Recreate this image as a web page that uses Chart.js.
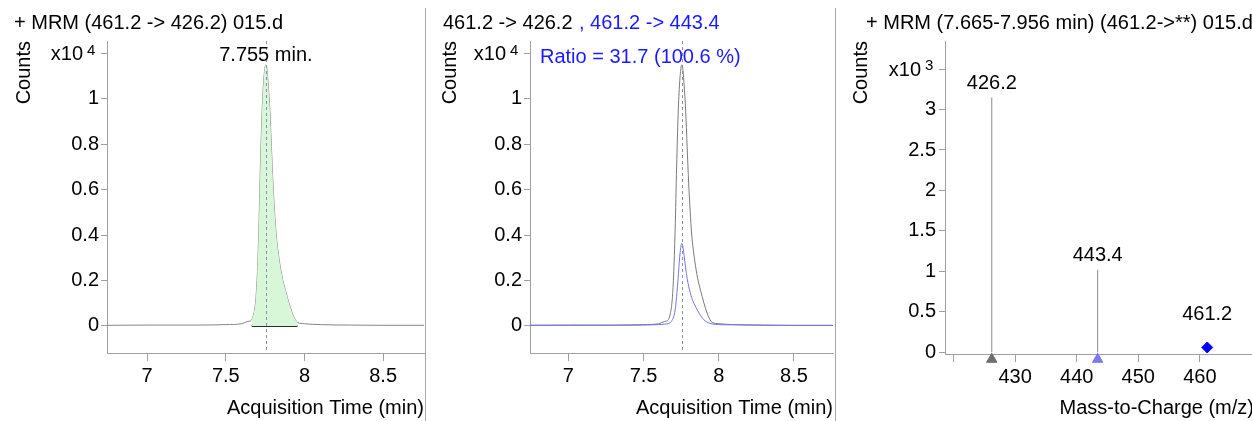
<!DOCTYPE html>
<html>
<head>
<meta charset="utf-8">
<script src="https://cdn.jsdelivr.net/npm/chart.js@4.4.1/dist/chart.umd.min.js"></script>
<style>
  html, body { margin: 0; padding: 0; background: #fff; overflow: hidden; }
  body { width: 1252px; height: 421px; position: relative; }
  canvas { position: absolute; top: 0; }
  .sep { position: absolute; top: 8px; width: 1px; height: 413px; background: #a8a8a8; }
</style>
</head>
<body>
<canvas id="quantChart" width="425" height="421" style="left:0"></canvas>
<div class="sep" style="left:425px"></div>
<canvas id="qualChart" width="410" height="421" style="left:426px"></canvas>
<div class="sep" style="left:835px"></div>
<canvas id="specChart" width="425" height="421" style="left:836px"></canvas>
<script>
// data block
const rtTimes = [6.74, 7.0, 7.3, 7.5, 7.6, 7.64, 7.655, 7.665, 7.68, 7.69, 7.70, 7.71, 7.72, 7.73, 7.74, 7.75,
    7.755, 7.76, 7.77, 7.78, 7.79, 7.80, 7.81, 7.82, 7.84, 7.86, 7.88, 7.90, 7.92, 7.94, 7.956, 8.0, 8.1, 8.3, 8.5, 8.76];
// 461.2 -> 426.2 (x10^4 counts)
const quantCounts = [0.003, 0.004, 0.004, 0.006, 0.010, 0.020, 0.022, 0.028, 0.060, 0.110, 0.220, 0.420, 0.700, 0.930, 1.070, 1.140,
    1.150, 1.140, 1.060, 0.950, 0.790, 0.630, 0.505, 0.405, 0.290, 0.210, 0.155, 0.105, 0.062, 0.030, 0.016, 0.010, 0.006, 0.004, 0.003, 0.003];
// 461.2 -> 443.4 (x10^4 counts)
const qualCounts = [0.003, 0.003, 0.003, 0.004, 0.006, 0.008, 0.009, 0.011, 0.016, 0.025, 0.040, 0.070, 0.130, 0.210, 0.300, 0.355,
    0.364, 0.355, 0.310, 0.255, 0.210, 0.175, 0.148, 0.125, 0.093, 0.068, 0.045, 0.028, 0.018, 0.012, 0.009, 0.006, 0.005, 0.003, 0.002, 0.002];
const retentionTime = 7.755;
const integration = [7.665, 7.956];

// spectrum (x10^3 counts)
const ionMz = [426.2, 443.4, 461.2];
const ionCounts = [3.15, 1.02, 0.06];
const ionKind = ['product', 'product', 'precursor'];

const timeTicks = [7, 7.5, 8, 8.5];
const mzTicks = [420, 430, 440, 450, 460];

// style block
const AXIS = '#a0a0a0';
const FONT = "'Liberation Sans', Arial, sans-serif";
Chart.defaults.font.family = FONT;
Chart.defaults.font.size = 20;
Chart.defaults.color = '#000';

function text(ctx, str, x, y, color, size, align) {
    ctx.font = (size || 20) + 'px ' + FONT;
    ctx.fillStyle = color || '#000';
    ctx.textAlign = align || 'left';
    ctx.textBaseline = 'middle';
    ctx.fillText(str, x, y);
}

function exponent(ctx, chart, power, y) {
    const left = chart.chartArea.left;
    text(ctx, 'x10', left - 24, y + 1, '#000', 20, 'right');
    text(ctx, power, left - 20, y - 3, '#000', 15, 'left');
}

function rtLine(chart) {
    const ctx = chart.ctx;
    const x = chart.scales.x.getPixelForValue(retentionTime);
    ctx.save();
    ctx.strokeStyle = '#8c8cb8';
    ctx.lineWidth = 1;
    ctx.setLineDash([3, 3]);
    ctx.beginPath();
    ctx.moveTo(Math.round(x) + 0.5, chart.chartArea.top);
    ctx.lineTo(Math.round(x) + 0.5, chart.chartArea.bottom);
    ctx.stroke();
    ctx.restore();
}

function chromOptions(leftWidth, padRight) {
    return {
        responsive: false,
        animation: false,
        layout: { padding: { top: 41, right: padRight, bottom: 0, left: 0 } },
        plugins: { legend: { display: false }, tooltip: { enabled: false } },
        scales: {
            x: {
                type: 'linear', min: 6.745, max: 8.76,
                afterFit: s => { s.height = 68; },
                afterBuildTicks: s => { s.ticks = timeTicks.map(v => ({ value: v })); },
                border: { display: true, color: AXIS },
                grid: { display: true, drawOnChartArea: false, tickLength: 8, color: AXIS },
                ticks: { autoSkip: false, maxRotation: 0, padding: 3, callback: v => String(v) },
                title: { display: true, text: 'Acquisition Time (min)', align: 'end', padding: { top: 0, bottom: 1 } }
            },
            y: {
                min: -0.119, max: 1.255,
                afterFit: s => { s.width = leftWidth; },
                border: { display: true, color: AXIS },
                grid: { display: true, drawOnChartArea: false, tickLength: 6, color: AXIS },
                ticks: {
                    stepSize: 0.2, includeBounds: false, padding: 2,
                    callback: v => (Math.abs(v - 1.2) < 1e-6 ? '' : String(Math.round(v * 10) / 10))
                },
                title: { display: true, text: 'Counts', align: 'end', padding: { top: 12, bottom: 0 } }
            }
        }
    };
}

const pts = ys => rtTimes.map((t, i) => ({ x: t, y: ys[i] }));
const line = { pointRadius: 0, borderWidth: 1, fill: false, cubicInterpolationMode: 'monotone' };

// panel 1: quantifier with integrated area
new Chart(document.getElementById('quantChart'), {
    type: 'line',
    data: {
        datasets: [
            Object.assign({}, line, {
                data: pts(quantCounts).filter(p => p.x >= integration[0] && p.x <= integration[1]),
                fill: 'origin', backgroundColor: '#d8f6d8', borderWidth: 0
            }),
            Object.assign({}, line, { data: pts(quantCounts), borderColor: '#858585' }),
            { data: integration.map(t => ({ x: t, y: 0 })), borderColor: '#2a2a2a', borderWidth: 2, pointRadius: 0 }
        ]
    },
    options: chromOptions(107, 1),
    plugins: [{
        id: 'decor1',
        afterDatasetsDraw: rtLine,
        afterDraw(chart) {
            const ctx = chart.ctx;
            text(ctx, '+ MRM (461.2 -> 426.2) 015.d', 14, 23);
            exponent(ctx, chart, '4', chart.scales.y.getPixelForValue(1.2));
            text(ctx, retentionTime.toFixed(3) + ' min.', chart.scales.x.getPixelForValue(retentionTime), 55, '#000', 20, 'center');
        }
    }]
});

// panel 2: quantifier vs qualifier overlay
new Chart(document.getElementById('qualChart'), {
    type: 'line',
    data: {
        datasets: [
            Object.assign({}, line, { data: pts(qualCounts), borderColor: '#7474e6' }),
            Object.assign({}, line, { data: pts(quantCounts), borderColor: '#7a7a7a' })
        ]
    },
    options: chromOptions(104, 3),
    plugins: [{
        id: 'decor2',
        afterDatasetsDraw: rtLine,
        afterDraw(chart) {
            const ctx = chart.ctx;
            text(ctx, '461.2 -> 426.2', 17, 23);
            text(ctx, ', 461.2 -> 443.4', 153, 23, '#1a1aff');
            exponent(ctx, chart, '4', chart.scales.y.getPixelForValue(1.2));
            text(ctx, 'Ratio = 31.7 (100.6 %)', 114, 57, '#1a1aff');
        }
    }]
});

// panel 3: MRM spectrum
const ionColors = { product: ['#6e6e6e', '#7a7af2'], precursor: '#0000ff' };
const products = ionMz.map((m, i) => ({ x: m, y: ionCounts[i], kind: ionKind[i] })).filter(p => p.kind === 'product');
const precursors = ionMz.map((m, i) => ({ x: m, y: ionCounts[i], kind: ionKind[i] })).filter(p => p.kind === 'precursor');

new Chart(document.getElementById('specChart'), {
    type: 'line',
    data: {
        datasets: [
            ...products.map(p => ({ data: [{ x: p.x, y: 0 }, { x: p.x, y: p.y }], borderColor: '#8a8a8a', borderWidth: 1, pointRadius: 0 })),
            {
                data: products.map(p => ({ x: p.x, y: 0 })), showLine: false, clip: false, markerShift: 7,
                pointStyle: 'triangle', pointRadius: 6, pointBorderWidth: 1,
                pointBackgroundColor: ionColors.product, pointBorderColor: ionColors.product
            },
            {
                data: precursors.map(p => ({ x: p.x, y: p.y })), showLine: false, clip: false,
                pointStyle: 'rectRot', pointRadius: 5.5, pointBorderWidth: 1,
                pointBackgroundColor: ionColors.precursor, pointBorderColor: ionColors.precursor
            }
        ]
    },
    options: {
        responsive: false,
        animation: false,
        layout: { padding: { top: 41, right: 3, bottom: 0, left: 0 } },
        plugins: { legend: { display: false }, tooltip: { enabled: false } },
        scales: {
            x: {
                type: 'linear', min: 418.6, max: 468.8,
                afterFit: s => { s.height = 67; },
                afterBuildTicks: s => { s.ticks = mzTicks.map(v => ({ value: v })); },
                border: { display: true, color: AXIS },
                grid: { display: true, drawOnChartArea: false, tickLength: 8, color: AXIS },
                ticks: { autoSkip: false, maxRotation: 0, padding: 3, callback: v => (v === 420 ? '' : String(v)) },
                title: { display: true, text: 'Mass-to-Charge (m/z)', align: 'end', padding: { top: 0, bottom: 1 } }
            },
            y: {
                min: -0.021, max: 3.847,
                afterFit: s => { s.width = 109; },
                border: { display: true, color: AXIS },
                grid: { display: true, drawOnChartArea: false, tickLength: 6, color: AXIS },
                ticks: {
                    stepSize: 0.5, includeBounds: false, padding: 3,
                    callback: v => (Math.abs(v - 3.5) < 1e-6 ? '' : String(Math.round(v * 2) / 2))
                },
                title: { display: true, text: 'Counts', align: 'end', padding: { top: 13, bottom: 0 } }
            }
        }
    },
    plugins: [{
        id: 'decor3',
        beforeDatasetDraw(chart, args) {
            const ds = chart.data.datasets[args.index];
            if (ds.markerShift) { chart.ctx.save(); chart.ctx.translate(0, ds.markerShift); }
        },
        afterDatasetDraw(chart, args) {
            if (chart.data.datasets[args.index].markerShift) chart.ctx.restore();
        },
        afterDraw(chart) {
            const ctx = chart.ctx;
            const lift = [14, 14, 33];
            text(ctx, '+ MRM (7.665-7.956 min) (461.2->**) 015.d', 30, 23);
            exponent(ctx, chart, '3', chart.scales.y.getPixelForValue(3.5));
            ionMz.forEach((m, i) => {
                text(ctx, m.toFixed(1), chart.scales.x.getPixelForValue(m),
                    chart.scales.y.getPixelForValue(ionCounts[i]) - lift[i], '#000', 20, 'center');
            });
        }
    }]
});
</script>
</body>
</html>
